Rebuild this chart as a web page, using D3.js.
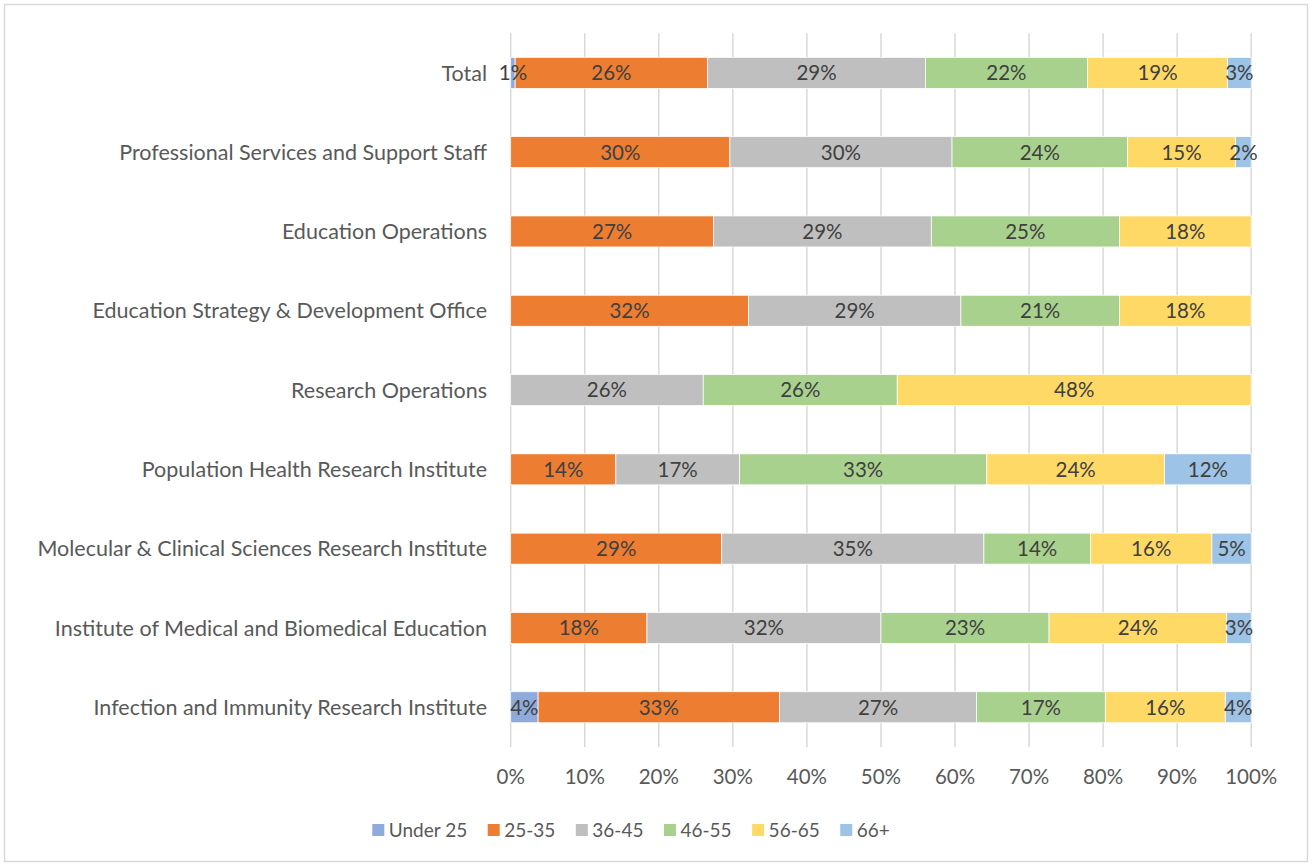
<!DOCTYPE html>
<html>
<head>
<meta charset="utf-8">
<script src="https://cdn.jsdelivr.net/npm/d3@7"></script>
<style>
  body { margin: 0; background: #fff; }
  svg text { font-family: Lato, "Open Sans", sans-serif; }
</style>
</head>
<body>
<svg id="chart" width="1314" height="867"></svg>
<script>
// categories top to bottom
const categories = [
    "Total",
    "Professional Services and Support Staff",
    "Education Operations",
    "Education Strategy & Development Office",
    "Research Operations",
    "Population Health Research Institute",
    "Molecular & Clinical Sciences Research Institute",
    "Institute of Medical and Biomedical Education",
    "Infection and Immunity Research Institute"
];

const seriesNames = ["Under 25", "25-35", "36-45", "46-55", "56-65", "66+"];
const seriesColors = ["#8FAADC", "#ED7D31", "#BFBFBF", "#A9D18E", "#FFD966", "#9DC3E6"];

// percentage per series, same order as categories
const under25 = [0.6, 0, 0, 0, 0, 0, 0, 0, 3.7];
const age25to35 = [26.0, 29.6, 27.4, 32.1, 0, 14.2, 28.5, 18.4, 32.6];
const age36to45 = [29.4, 30.0, 29.4, 28.7, 26.0, 16.7, 35.4, 31.6, 26.6];
const age46to55 = [21.9, 23.7, 25.4, 21.4, 26.2, 33.4, 14.4, 22.7, 17.4];
const age56to65 = [18.9, 14.6, 17.8, 17.8, 47.8, 24.0, 16.4, 24.0, 16.2];
const age66plus = [3.2, 2.1, 0, 0, 0, 11.7, 5.3, 3.3, 3.5];

const xTicks = [0, 10, 20, 30, 40, 50, 60, 70, 80, 90, 100];

const allSeries = [under25, age25to35, age36to45, age46to55, age56to65, age66plus];

var svg = d3.select("#chart");
const width = +svg.attr("width");
const height = +svg.attr("height");

// chart border
svg.append("rect")
    .attr("x", 4.5).attr("y", 4.5)
    .attr("width", 1303).attr("height", 857)
    .attr("fill", "#fff")
    .attr("stroke", "#D9D9D9")
    .attr("stroke-width", 1.5);

const plotLeft = 510.7, plotRight = 1251.2;
const plotTop = 33.2, plotBottom = 746.9;

var xScale = d3.scaleLinear().domain([0, 100]).range([plotLeft, plotRight]);
var yScale = d3.scaleBand().domain(categories)
    .range([plotTop, plotBottom])
    .paddingInner(0.609)
    .paddingOuter(0.3045);

// gridlines
svg.append("g").selectAll("line")
    .data(xTicks)
    .join("line")
    .attr("x1", d => xScale(d)).attr("x2", d => xScale(d))
    .attr("y1", plotTop).attr("y2", plotBottom)
    .attr("stroke", "#D9D9D9")
    .attr("stroke-width", 1.5);

// stacked rows
const rows = categories.map((cat, i) => {
    let row = { cat: cat };
    seriesNames.forEach((s, j) => { row[s] = allSeries[j][i]; });
    return row;
});
const stacked = d3.stack().keys(seriesNames)(rows);

const barsG = svg.append("g");
stacked.forEach((layer, j) => {
    layer.forEach(seg => {
        const v = seg[1] - seg[0];
        if (v <= 0) return;
        barsG.append("rect")
            .attr("x", xScale(seg[0]))
            .attr("y", yScale(seg.data.cat))
            .attr("width", xScale(seg[1]) - xScale(seg[0]))
            .attr("height", yScale.bandwidth())
            .attr("fill", seriesColors[j])
            .attr("stroke", "#fff")
            .attr("stroke-width", 0.75);
    });
});

// data labels
const labelsG = svg.append("g");
stacked.forEach((layer, j) => {
    layer.forEach(seg => {
        const v = seg[1] - seg[0];
        if (v <= 0) return;
        labelsG.append("text")
            .attr("x", xScale((seg[0] + seg[1]) / 2))
            .attr("y", yScale(seg.data.cat) + yScale.bandwidth() / 2)
            .attr("dy", "0.36em")
            .attr("text-anchor", "middle")
            .attr("font-size", 20.5)
            .attr("fill", "#404040")
            .text(Math.round(v) + "%");
    });
});

// category labels
svg.append("g").selectAll("text")
    .data(categories)
    .join("text")
    .attr("x", 487)
    .attr("y", d => yScale(d) + yScale.bandwidth() / 2)
    .attr("dy", "0.36em")
    .attr("text-anchor", "end")
    .attr("font-size", 21.5)
    .attr("fill", "#595959")
    .text(d => d);

// x tick labels
svg.append("g").selectAll("text")
    .data(xTicks)
    .join("text")
    .attr("x", d => xScale(d))
    .attr("y", 777)
    .attr("dy", "0.36em")
    .attr("text-anchor", "middle")
    .attr("font-size", 20.5)
    .attr("fill", "#595959")
    .text(d => d + "%");

// legend
const legend = svg.append("g");
let lx = 372.3;
seriesNames.forEach((name, j) => {
    legend.append("rect")
        .attr("x", lx).attr("y", 824)
        .attr("width", 12).attr("height", 12)
        .attr("fill", seriesColors[j]);
    const t = legend.append("text")
        .attr("x", lx + 16.5)
        .attr("y", 830)
        .attr("dy", "0.36em")
        .attr("font-size", 19)
        .attr("fill", "#595959")
        .text(name);
    lx += 16.5 + t.node().getComputedTextLength() + 20.5;
});
</script>
</body>
</html>
